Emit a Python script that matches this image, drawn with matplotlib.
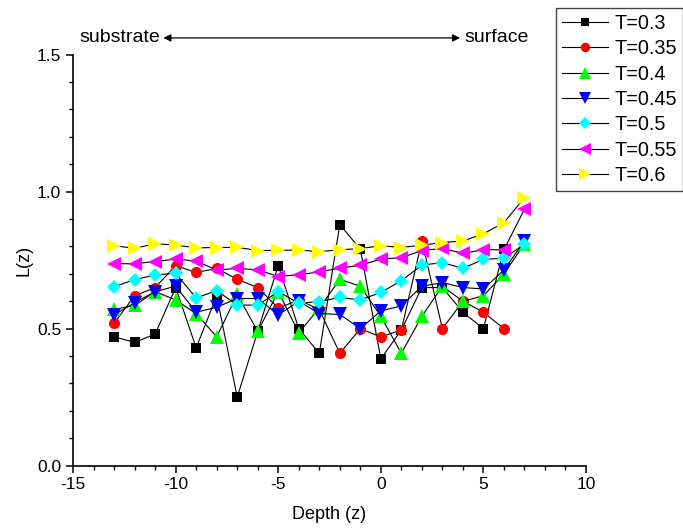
import numpy as np
import matplotlib
matplotlib.use('Agg')
import matplotlib.pyplot as plt
from matplotlib.ticker import MultipleLocator

plt.rcParams['font.family']=['Liberation Sans','DejaVu Sans']
plt.rcParams['axes.unicode_minus']=False

depth=list(range(-13,8))
labels=['T=0.3','T=0.35','T=0.4','T=0.45','T=0.5','T=0.55','T=0.6']
# T=0.3 and T=0.35 stop at z=6
L_03=[0.47,0.45,0.48,0.65,0.43,0.62,0.25,0.49,0.73,0.50,0.41,0.88,0.79,0.39,0.495,0.65,0.65,0.56,0.50,0.79]
L_035=[0.52,0.62,0.65,0.73,0.705,0.72,0.68,0.65,0.575,0.605,0.57,0.41,0.50,0.47,0.495,0.82,0.50,0.60,0.56,0.50]
L_04=[0.57,0.585,0.635,0.605,0.555,0.47,0.625,0.49,0.635,0.485,0.575,0.68,0.655,0.545,0.41,0.545,0.655,0.60,0.62,0.70,0.81]
L_045=[0.55,0.595,0.635,0.655,0.56,0.578,0.61,0.61,0.55,0.60,0.555,0.552,0.50,0.565,0.583,0.655,0.668,0.65,0.645,0.714,0.82]
L_05=[0.653,0.679,0.696,0.702,0.612,0.639,0.586,0.586,0.635,0.593,0.599,0.614,0.605,0.632,0.675,0.732,0.741,0.720,0.753,0.757,0.808]
L_055=[0.737,0.737,0.745,0.754,0.747,0.714,0.720,0.715,0.690,0.697,0.707,0.721,0.731,0.754,0.759,0.785,0.793,0.775,0.788,0.788,0.936]
L_06=[0.803,0.793,0.810,0.805,0.795,0.796,0.797,0.785,0.786,0.787,0.781,0.788,0.792,0.803,0.796,0.805,0.814,0.820,0.846,0.887,0.978]

series=[L_03,L_035,L_04,L_045,L_05,L_055,L_06]
markers=['s','o','^','v','D','<','>']
colors=['black','red','#00ff00','blue','cyan','magenta','yellow']
sizes=[7.5,8,9.5,9.5,7.5,9.5,9.5]

fig=plt.figure(figsize=(6.83,5.29),dpi=100)
ax=fig.add_axes([0.107,0.1197,0.751,0.777])
for vals,m,c,ms,lab in zip(series,markers,colors,sizes,labels):
    ax.plot(depth[:len(vals)],vals,color='black',lw=0.8,marker=m,markersize=ms,
            markerfacecolor=c,markeredgecolor=c,markeredgewidth=0,label=lab)

ax.set_xlim(-15,10)
ax.set_ylim(0,1.5)
ax.xaxis.set_major_locator(MultipleLocator(5))
ax.xaxis.set_minor_locator(MultipleLocator(1))
ax.yaxis.set_major_locator(MultipleLocator(0.5))
ax.yaxis.set_minor_locator(MultipleLocator(0.1))
ax.yaxis.set_major_formatter(matplotlib.ticker.FormatStrFormatter('%.1f'))
ax.spines['top'].set_visible(False)
ax.spines['right'].set_visible(False)
for s in ['left','bottom']:
    ax.spines[s].set_linewidth(1.2)
ax.tick_params(which='major',direction='out',length=5,width=1.1,labelsize=12.5)
ax.tick_params(which='minor',direction='out',length=3,width=1.0)
ax.set_xlabel('Depth (z)',fontsize=13,labelpad=10)
ax.set_ylabel('L(z)',fontsize=13,labelpad=3)

ax.annotate('',xy=(-10.6,1.561),xytext=(3.86,1.561),xycoords='data',annotation_clip=False,
            arrowprops=dict(arrowstyle='<|-|>',color='black',lw=0.9,mutation_scale=11,shrinkA=0,shrinkB=0))
ax.text(-10.75,1.561,'substrate',ha='right',va='center',fontsize=14,clip_on=False)
ax.text(4.05,1.561,'surface',ha='left',va='center',fontsize=14,clip_on=False)

leg=fig.legend(loc='upper left',bbox_to_anchor=(556/683,1-8/529),fontsize=14.3,frameon=True,
               fancybox=False,edgecolor='#444444',framealpha=1,handlelength=2.3,
               markerscale=0.85,labelspacing=0.32,borderpad=0.3,handletextpad=0.35,borderaxespad=0)
leg.get_frame().set_linewidth(1.0)

fig.savefig('out.png',dpi=100)
